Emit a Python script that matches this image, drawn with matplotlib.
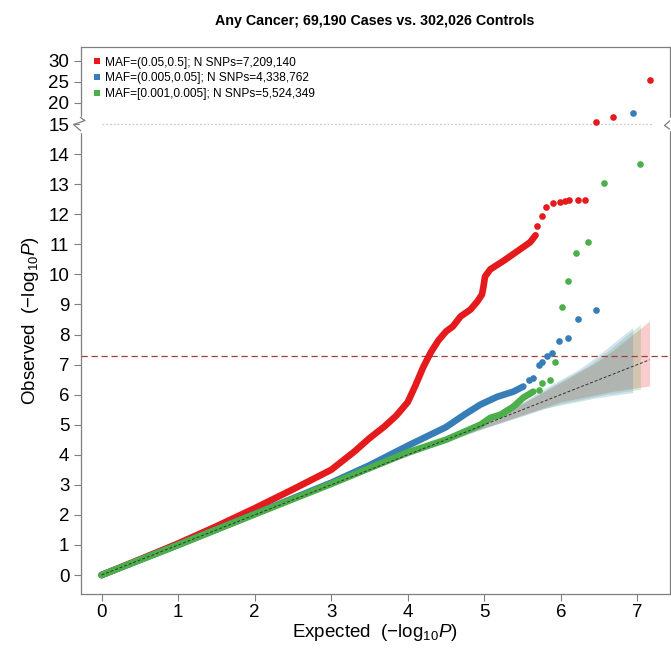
import numpy as np
import matplotlib
matplotlib.use("Agg")
import matplotlib.pyplot as plt
from matplotlib.lines import Line2D

plt.rcParams['font.family'] = ['Liberation Sans', 'DejaVu Sans']
plt.rcParams['mathtext.fontset'] = 'custom'
plt.rcParams['mathtext.rm'] = 'Liberation Sans'
plt.rcParams['mathtext.it'] = 'Liberation Sans:italic'

# ---------------- data ----------------
title = "Any Cancer; 69,190 Cases vs. 302,026 Controls"
labels = ["MAF=(0.05,0.5]; N SNPs=7,209,140",
          "MAF=(0.005,0.05]; N SNPs=4,338,762",
          "MAF=[0.001,0.005]; N SNPs=5,524,349"]
colors = ["#E41A1C", "#377EB8", "#4DAF4A"]

# dense (continuous) part of each QQ curve
red_dense_x = [0, 0.5, 1, 1.5, 2, 2.5, 3, 3.3, 3.5, 3.7, 3.85, 4.0, 4.1, 4.2, 4.3, 4.4, 4.5,
               4.59, 4.69, 4.82, 4.91, 4.97, 4.99, 5.01, 5.08, 5.24, 5.41, 5.6, 5.67]
red_dense_y = [0, 0.52, 1.05, 1.62, 2.22, 2.85, 3.5, 4.1, 4.55, 4.95, 5.3, 5.75, 6.3, 6.9, 7.4, 7.8, 8.1,
               8.27, 8.6, 8.83, 9.1, 9.33, 9.6, 9.93, 10.17, 10.43, 10.73, 11.07, 11.3]
red_tail_x = [5.69, 5.75, 5.80, 5.90, 5.99, 6.05, 6.11, 6.22, 6.31, 6.46, 6.68, 7.16]
red_tail_y = [11.6, 11.93, 12.23, 12.37, 12.4, 12.43, 12.47, 12.47, 12.47, 15.5, 16.6, 25.5]

blue_dense_x = [0, 1, 2, 3, 3.5, 4, 4.5, 4.75, 4.95, 5.17, 5.38, 5.51]
blue_dense_y = [0, 1.0, 2.03, 3.07, 3.65, 4.3, 4.92, 5.35, 5.67, 5.93, 6.1, 6.27]
blue_tail_x = [5.58, 5.64, 5.71, 5.76, 5.82, 5.89, 5.98, 6.09, 6.23, 6.46, 6.94]
blue_tail_y = [6.5, 6.57, 6.97, 7.07, 7.3, 7.37, 7.77, 7.9, 8.53, 8.8, 17.6]

green_dense_x = [0, 1, 2, 3, 4, 4.5, 4.95, 5.08, 5.21, 5.38, 5.51, 5.64]
green_dense_y = [0, 1.0, 2.02, 3.03, 4.08, 4.5, 5.0, 5.23, 5.33, 5.6, 5.9, 6.1]
green_tail_x = [5.71, 5.76, 5.86, 5.93, 6.01, 6.09, 6.20, 6.35, 6.57, 7.04]
green_tail_y = [6.17, 6.4, 6.5, 7.07, 8.9, 9.77, 10.7, 11.07, 13.03, 13.67]

# 95% confidence bands
red_band_x = [3.5, 4.0, 4.5, 5.0, 5.5, 6.0, 6.46, 6.68, 7.16]
red_band_lo = [3.48, 3.97, 4.44, 4.90, 5.33, 5.76, 6.00, 6.11, 6.29]
red_band_hi = [3.52, 4.03, 4.56, 5.11, 5.70, 6.41, 7.07, 7.47, 8.45]
blue_band_x = [3.5, 4.0, 4.5, 5.0, 5.5, 5.78, 6.24, 6.46, 6.94]
blue_band_lo = [3.48, 3.96, 4.43, 4.88, 5.29, 5.54, 5.78, 5.89, 6.07]
blue_band_hi = [3.52, 4.04, 4.57, 5.14, 5.75, 6.19, 6.85, 7.25, 8.23]
green_band_x = [3.5, 4.0, 4.5, 5.0, 5.5, 6.0, 6.35, 6.57, 7.04]
green_band_lo = [3.48, 3.96, 4.44, 4.89, 5.31, 5.70, 5.88, 6.00, 6.175]
green_band_hi = [3.52, 4.04, 4.57, 5.12, 5.72, 6.45, 6.95, 7.36, 8.34]

sig_line = 7.3
diag_max = 7.16
y_break = 15
yticks = [0, 1, 2, 3, 4, 5, 6, 7, 8, 9, 10, 11, 12, 13, 14, 15, 20, 25, 30]
xticks = [0, 1, 2, 3, 4, 5, 6, 7]

# ---------------- broken y scale ----------------
K = 0.1404


def fwd(v):
    v = np.asarray(v, dtype=float)
    return np.where(v <= y_break, v, y_break + (v - y_break) * K)


def inv(u):
    u = np.asarray(u, dtype=float)
    return np.where(u <= y_break, u, y_break + (u - y_break) / K)


W, H = 671, 655
fig = plt.figure(figsize=(W / 100, H / 100), dpi=100)
L, R, B, T = 80.5, 669.5, 594, 47
ax = fig.add_axes([L / W, 1 - B / H, (R - L) / W, (B - T) / H])
ax.set_yscale('function', functions=(fwd, inv))
ax.set_xlim(-0.275, 7.42)
ax.set_ylim(-0.63, 33.25)

spine_col = '#7f7f7f'
for s in ax.spines.values():
    s.set_color(spine_col)
    s.set_linewidth(0.9)

# bands
for bx, lo, hi, c in [(red_band_x, red_band_lo, red_band_hi, colors[0]),
                      (green_band_x, green_band_lo, green_band_hi, colors[2]),
                      (blue_band_x, blue_band_lo, blue_band_hi, colors[1])]:
    ax.fill_between(bx, lo, hi, color=c, alpha=0.22, lw=0, zorder=1)

# break guide
ax.plot([0, 7.2], [y_break, y_break], ls=(0, (1.5, 1.5)), color='#cccccc', lw=0.9, zorder=1)
# significance line
ax.axhline(sig_line, color='#a0403a', ls=(0, (5, 3)), lw=0.9, zorder=2)

ms = 4.8
series = [(red_dense_x, red_dense_y, red_tail_x, red_tail_y, colors[0]),
          (blue_dense_x, blue_dense_y, blue_tail_x, blue_tail_y, colors[1]),
          (green_dense_x, green_dense_y, green_tail_x, green_tail_y, colors[2])]
for i, (dx, dy, tx, ty, c) in enumerate(series):
    ax.plot(dx, dy, '-', color=c, lw=ms, solid_capstyle='round',
            solid_joinstyle='round', zorder=3 + i)
    ax.plot(tx, ty, 'o', color=c, ms=ms, mew=0, zorder=3 + i)

# diagonal
ax.plot([0, diag_max], [0, diag_max], color='#333333', ls=(0, (3, 2)), lw=0.7, zorder=10)

# ticks
ax.set_xticks(xticks)
ax.set_yticks(yticks)
ax.set_yticklabels([str(t) for t in yticks])
ax.tick_params(axis='both', direction='out', length=5, width=0.8, color=spine_col,
               labelsize=13.5, labelcolor='black')
ax.tick_params(axis='x', pad=2)
ax.tick_params(axis='y', pad=3)
ax.minorticks_off()

ax.set_xlabel(r'Expected  $(-\mathrm{log}_{10}P)$', fontsize=13.5, labelpad=1)
ax.set_ylabel(r'Observed  $(-\mathrm{log}_{10}P)$', fontsize=13.5, labelpad=5)
ax.set_title(title, fontsize=10.3, fontweight='bold', pad=16)

# break marks on spines
fig.canvas.draw()
y15 = ax.transAxes.inverted().transform(ax.transData.transform((0, y_break)))[1]
pw = R - L
ph = B - T


def zig(x0, pts):
    xs = [x0 + p[0] / pw for p in pts]
    ys = [y15 - p[1] / ph for p in pts]
    return xs, ys


# white out spine segments
ax.plot([0, 0], [y15 + 6.5 / ph, y15 - 6.5 / ph], transform=ax.transAxes, color='white',
        lw=2.5, clip_on=False, zorder=20)
ax.plot([1, 1], [y15 + 5 / ph, y15 - 5 / ph], transform=ax.transAxes, color='white',
        lw=2.5, clip_on=False, zorder=20)
xs, ys = zig(0, [(0, -6.5), (4.5, -3.5), (-7, 0.5), (0, 6.5)])
ax.plot(xs, ys, transform=ax.transAxes, color=spine_col, lw=0.9, clip_on=False, zorder=21)
xs, ys = zig(1, [(0, -3), (-5, 1.5), (0, 5)])
ax.plot(xs, ys, transform=ax.transAxes, color=spine_col, lw=0.9, clip_on=False, zorder=21)

# legend
handles = [Line2D([], [], marker='s', ls='none', color=c, ms=4.4, mew=0) for c in colors]
ax.legend(handles, labels, loc='upper left', bbox_to_anchor=(0.0, 1.0), frameon=False,
          fontsize=8.6, handletextpad=0.15, labelspacing=0.3, borderaxespad=0.5,
          handlelength=1.1, borderpad=0.3)

fig.savefig('out.png', dpi=100)
